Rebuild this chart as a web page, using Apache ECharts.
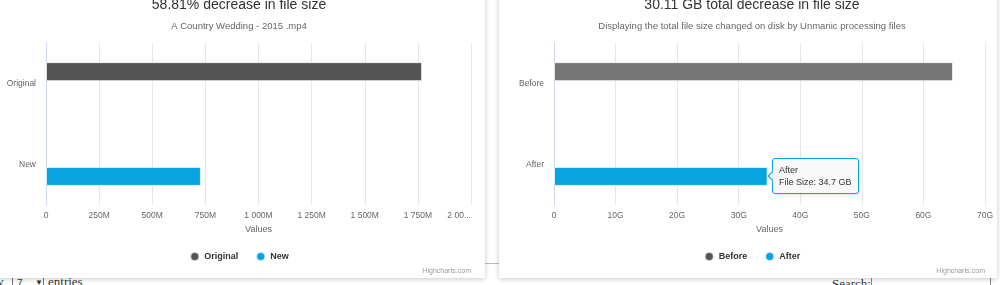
<!DOCTYPE html>
<html>
<head>
<meta charset="utf-8">
<script src="https://cdn.jsdelivr.net/npm/echarts@6/dist/echarts.min.js"></script>
<style>
  html, body { margin: 0; padding: 0; width: 1000px; height: 285px; overflow: hidden; background: #ffffff; position: relative; }
  .card { position: absolute; top: -30px; height: 308px; background: #ffffff; box-shadow: 0 1px 5px rgba(0,0,0,0.22); }
  .chart { position: absolute; top: 0; height: 277px; }
  .rule { position: absolute; left: 470px; width: 45px; top: 263px; height: 1px; background: #bbbbbb; }
  .page { position: absolute; font-family: "Liberation Serif", serif; font-size: 13px; font-weight: normal; color: #333; white-space: nowrap; }
  .sel { position: absolute; left: 12px; top: 276px; width: 32px; height: 16px; border: 1px solid #767676; box-sizing: border-box; background: #fff; font-family: "Liberation Sans", sans-serif; font-size: 10px; color: #333; }
  .inp { position: absolute; left: 871px; top: 277px; width: 120px; height: 18px; border: 1px solid #888; box-sizing: border-box; background: #fff; }
</style>
</head>
<body>
<div class="rule"></div>
<div class="page" style="left:-26px; top:274px;">Show</div>
<div class="sel"><span style="position:absolute;left:4px;top:1px;">7</span><span style="position:absolute;left:22px;top:1px;font-size:8px;">&#9660;</span></div>
<div class="page" style="left:48px; top:274px;">entries</div>
<div class="page" style="left:832px; top:276px;">Search:</div>
<div class="inp"></div>
<div class="card" style="left:-13px; width:498px;"></div>
<div class="card" style="left:499px; width:498px;"></div>
<div id="c1" class="chart" style="left:-10px; width:498px;"></div>
<div id="c2" class="chart" style="left:503px; width:498px;"></div>
<script>
// ---- Data: left chart (single file, values in MB) ----
const leftTitle = '58.81% decrease in file size';
const leftSubtitle = 'A Country Wedding - 2015 .mp4';
const leftCategories = ['Original', 'New'];
const leftSeriesNames = ['Original', 'New'];
const leftOriginal = [1770, null];
const leftNew = [null, 729];
const leftTickLabels = ['0', '250M', '500M', '750M', '1 000M', '1 250M', '1 500M', '1 750M', '2 00...'];

// ---- Data: right chart (total, values in GB) ----
const rightTitle = '30.11 GB total decrease in file size';
const rightSubtitle = 'Displaying the total file size changed on disk by Unmanic processing files';
const rightCategories = ['Before', 'After'];
const rightSeriesNames = ['Before', 'After'];
const rightBefore = [64.81, null];
const rightAfter = [null, 34.7];
const rightTickLabels = ['0', '10G', '20G', '30G', '40G', '50G', '60G', '70G'];

const FONT = '"Liberation Sans", Arial, sans-serif';
const DARK = '#555555';
const BLUE = '#07a4e1';

function buildOption(cfg) {
  return {
    animation: false,
    textStyle: { fontFamily: FONT },
    title: [
      { text: cfg.title, left: 'center', top: -2, padding: 0,
        textStyle: { fontFamily: FONT, fontSize: 14, fontWeight: 'normal', color: '#333333' } },
      { text: cfg.subtitle, left: 'center', top: 21, padding: 0,
        textStyle: { fontFamily: FONT, fontSize: 9.5, fontWeight: 'normal', color: '#666666' } },
      { text: 'Highcharts.com', right: cfg.creditRight, top: 268, padding: 0,
        textStyle: { fontFamily: FONT, fontSize: 7, fontWeight: 'normal', color: '#999999' } }
    ],
    legend: {
      data: [
        { name: cfg.seriesNames[0], itemStyle: { color: DARK } },
        { name: cfg.seriesNames[1], itemStyle: { color: BLUE } }
      ],
      left: 'center', top: 251, padding: 0,
      icon: 'circle', itemWidth: 9, itemHeight: 9, itemGap: 17,
      textStyle: { fontFamily: FONT, fontSize: 9, fontWeight: 'bold', color: '#333333' }
    },
    tooltip: cfg.tooltip,
    grid: { left: cfg.gridLeft, right: cfg.gridRight, top: 43, bottom: 72 },
    xAxis: {
      type: 'value', min: 0, max: cfg.max, interval: cfg.interval,
      axisLine: { show: false }, axisTick: { show: false },
      splitLine: { show: true, lineStyle: { color: '#e6e6e6', width: 1 } },
      axisLabel: {
        color: '#666666', fontSize: 8.5, margin: 6, fontFamily: FONT,
        alignMaxLabel: cfg.alignMax,
        formatter: function (v) { return cfg.tickLabels[Math.round(v / cfg.interval)]; }
      },
      name: 'Values', nameLocation: 'middle', nameGap: 19,
      nameTextStyle: { color: '#666666', fontSize: 9, fontFamily: FONT }
    },
    yAxis: {
      type: 'category', data: cfg.categories, inverse: true,
      axisLine: { show: true, lineStyle: { color: '#ccd6eb', width: 1 } },
      axisTick: { show: false },
      splitLine: { show: false },
      axisLabel: { color: '#666666', fontSize: 8.5, margin: 10, fontFamily: FONT }
    },
    series: [
      { name: cfg.seriesNames[0], type: 'bar', data: cfg.first, barWidth: 19, barGap: '25%',
        itemStyle: { color: cfg.firstBarColor, borderColor: 'rgba(255,255,255,0.7)', borderWidth: 1 } },
      { name: cfg.seriesNames[1], type: 'bar', data: cfg.second, barWidth: 19, barGap: '25%',
        itemStyle: { color: BLUE, borderColor: 'rgba(255,255,255,0.7)', borderWidth: 1 } }
    ]
  };
}

const chart1 = echarts.init(document.getElementById('c1'), null, { renderer: 'canvas' });
chart1.setOption(buildOption({
  title: leftTitle, subtitle: leftSubtitle, categories: leftCategories,
  seriesNames: leftSeriesNames, first: leftOriginal, second: leftNew,
  tickLabels: leftTickLabels, max: 2000, interval: 250,
  gridLeft: 56, gridRight: 17, creditRight: 17, alignMax: 'right',
  firstBarColor: DARK,
  tooltip: { show: false }
}));

const chart2 = echarts.init(document.getElementById('c2'), null, { renderer: 'canvas' });
chart2.setOption(buildOption({
  title: rightTitle, subtitle: rightSubtitle, categories: rightCategories,
  seriesNames: rightSeriesNames, first: rightBefore, second: rightAfter,
  tickLabels: rightTickLabels, max: 70, interval: 10,
  gridLeft: 51, gridRight: 16, creditRight: 16, alignMax: 'center',
  firstBarColor: '#757575',
  tooltip: {
    trigger: 'item', position: 'right', alwaysShowContent: true, transitionDuration: 0,
    backgroundColor: 'rgba(247,247,247,0.9)', borderColor: BLUE, borderWidth: 1, borderRadius: 3,
    padding: [5, 6],
    textStyle: { fontFamily: FONT, fontSize: 9, color: '#333333', lineHeight: 12 },
    extraCssText: 'box-shadow: 1px 1px 3px rgba(0,0,0,0.12); margin-left: -6px;',
    formatter: function (p) {
      return p.seriesName + '<br/>File Size: ' + p.value + ' GB';
    }
  }
}));
chart2.dispatchAction({ type: 'showTip', seriesIndex: 1, dataIndex: 1 });
</script>
</body>
</html>
